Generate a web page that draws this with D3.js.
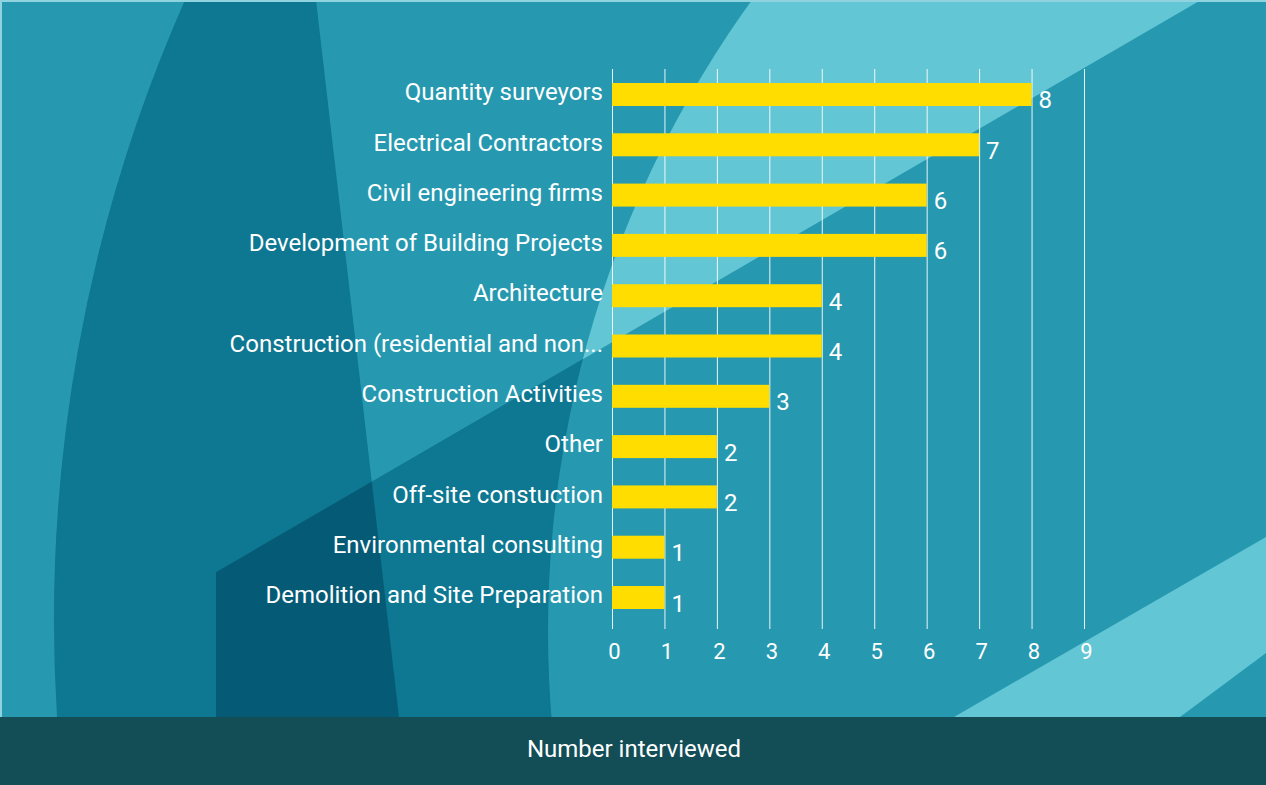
<!DOCTYPE html>
<html>
<head>
<meta charset="utf-8">
<script src="https://cdn.jsdelivr.net/npm/d3@7"></script>
<style>
  body { margin: 0; background: #2699b0; }
  text { font-family: Roboto, "Noto Sans", sans-serif; fill: #fff; }
</style>
</head>
<body>
<div id="chart"></div>
<script>
const categories = [
    "Quantity surveyors",
    "Electrical Contractors",
    "Civil engineering firms",
    "Development of Building Projects",
    "Architecture",
    "Construction (residential and non...",
    "Construction Activities",
    "Other",
    "Off-site constuction",
    "Environmental consulting",
    "Demolition and Site Preparation"
];
const values = [8, 7, 6, 6, 4, 4, 3, 2, 2, 1, 1];
const xTicks = [0, 1, 2, 3, 4, 5, 6, 7, 8, 9];
const axisTitle = "Number interviewed";

const W = 1266, H = 785;
const footerTop = 717;

let svg = d3.select("#chart")
  .append("svg")
    .attr("width", W)
    .attr("height", H);

// Fondo decorativo
let bg = svg.append("g");
let defs = svg.append("defs");

// linea diagonal que cruza el fondo: y = 337 - 0.582 * (x - 620)
const diagY = x => 337 - 0.582 * (x - 620);

defs.append("clipPath").attr("id", "darkClip")
  .append("path")
    .attr("d", `M216,${diagY(216)} L1201,0 L${W},0 L${W},${footerTop} L216,${footerTop} Z`);
defs.append("clipPath").attr("id", "circleClip")
  .append("circle")
    .attr("cx", 1626).attr("cy", 631).attr("r", 1078);

const lensPath = "M185,0 A1533,1533 0 0 0 57,717 L399,717 L316,0 Z";

bg.append("rect")
    .attr("width", W).attr("height", footerTop)
    .attr("fill", "#2699b0");
bg.append("path")
    .attr("d", lensPath)
    .attr("fill", "#0e7791");
bg.append("rect")
    .attr("width", W).attr("height", footerTop)
    .attr("clip-path", "url(#darkClip)")
    .attr("fill", "#0e7791");
bg.append("path")
    .attr("d", lensPath)
    .attr("clip-path", "url(#darkClip)")
    .attr("fill", "#055b76");
bg.append("circle")
    .attr("cx", 1626).attr("cy", 631).attr("r", 1078)
    .attr("fill", "#2699b0");
bg.append("path")
    .attr("d", `M0,0 L1201,0 L0,${diagY(0)} Z`)
    .attr("clip-path", "url(#circleClip)")
    .attr("fill", "#62c6d4");
bg.append("path")
    .attr("d", "M954,717 L1266,537 L1266,653 L1180,717 Z")
    .attr("fill", "#62c6d4");
// borde claro arriba y a la izquierda
bg.append("path")
    .attr("d", `M1,${H} L1,1 L${W},1`)
    .attr("fill", "none")
    .attr("stroke", "#8fd3df")
    .attr("stroke-width", 2);

// Pie con el titulo del eje
svg.append("rect")
    .attr("y", footerTop)
    .attr("width", W).attr("height", H - footerTop)
    .attr("fill", "#134e57");
svg.append("text")
    .attr("x", W / 2 + 1)
    .attr("y", 757)
    .attr("text-anchor", "middle")
    .style("font-size", "24px")
    .text(axisTitle);

// Escalas
var xScale = d3.scaleLinear()
    .domain([0, 9])
    .range([612, 1084]);

var yScale = d3.scaleBand()
    .domain(categories)
    .range([66, 626])
    .paddingInner(0.543)
    .paddingOuter(0.338);

const gridTop = 69, gridBottom = 629;

// Grilla vertical + etiquetas del eje X
let xAxis = svg.append("g")
    .attr("transform", `translate(0, ${gridBottom})`)
    .call(d3.axisBottom(xScale)
        .tickValues(xTicks)
        .tickSize(-(gridBottom - gridTop))
        .tickPadding(0)
        .tickFormat(d3.format("d")));
xAxis.select(".domain").remove();
xAxis.selectAll("line")
    .attr("stroke", "#fff")
    .attr("stroke-opacity", 0.9)
    .attr("stroke-width", 1);
xAxis.selectAll("text")
    .attr("y", 30)
    .attr("dy", 0)
    .attr("x", 2)
    .attr("fill", "#fff")
    .style("font-family", "Roboto, sans-serif")
    .style("font-size", "22px");

// Etiquetas de categorias
let yAxis = svg.append("g")
    .attr("transform", "translate(603, 0)")
    .call(d3.axisLeft(yScale).tickSize(0).tickPadding(0));
yAxis.select(".domain").remove();
yAxis.selectAll("text")
    .attr("fill", "#fff")
    .attr("dy", "0.24em")
    .style("font-family", "Roboto, sans-serif")
    .style("font-size", "24px");

// Barras
let data = categories.map((c, i) => ({ cat: c, val: values[i] }));

let barGroup = svg.selectAll(".barg")
    .data(data)
    .enter()
    .append("g")
    .attr("class", "barg");

barGroup.append("rect")
    .attr("x", xScale(0))
    .attr("y", d => yScale(d.cat))
    .attr("width", d => xScale(d.val) - xScale(0))
    .attr("height", yScale.bandwidth())
    .attr("fill", "#ffdd00");

barGroup.append("text")
    .attr("x", d => xScale(d.val) + 7)
    .attr("y", d => yScale(d.cat) + yScale.bandwidth() / 2 + 14)
    .style("font-size", "24px")
    .text(d => d.val);
</script>
</body>
</html>
